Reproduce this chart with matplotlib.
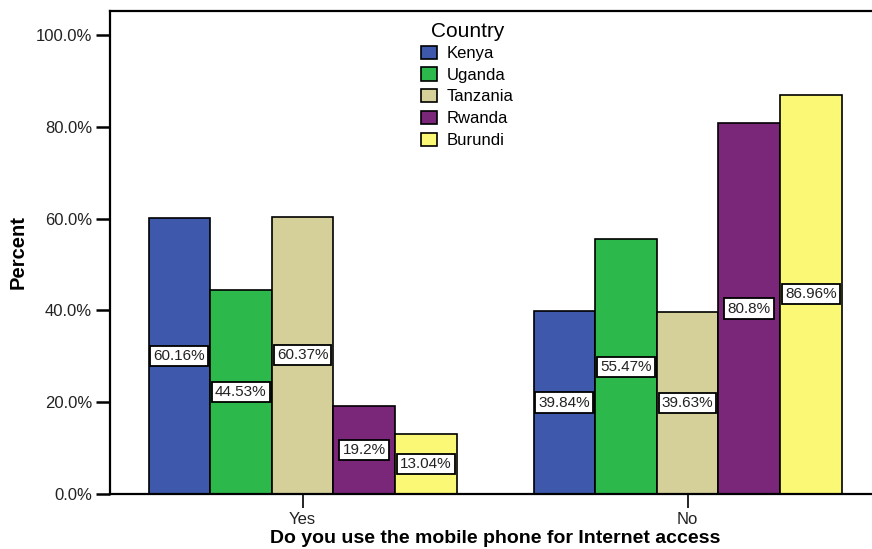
import numpy as np
import matplotlib.pyplot as plt

# data
groups = ['Yes', 'No']
countries = ['Kenya', 'Uganda', 'Tanzania', 'Rwanda', 'Burundi']
kenya = [60.16, 39.84]
uganda = [44.53, 55.47]
tanzania = [60.37, 39.63]
rwanda = [19.2, 80.8]
burundi = [13.04, 86.96]
colors = ['#3e58ab', '#2db84b', '#d5cf9a', '#7b2779', '#fbf875']

plt.rcParams['font.family'] = ['Liberation Sans', 'DejaVu Sans']

fig = plt.figure(figsize=(8.72, 5.49), dpi=100)
W, H = 872, 549
ax = fig.add_axes([110 / W, (H - 494) / H, 770 / W, (494 - 11) / H])

x = np.arange(len(groups))
width = 0.16
series = [kenya, uganda, tanzania, rwanda, burundi]
for i, (name, vals) in enumerate(zip(countries, series)):
    pos = x + (i - 2) * width
    ax.bar(pos, vals, width, color=colors[i], edgecolor='black',
           linewidth=1.2, label=name, zorder=2)
    for px, v in zip(pos, vals):
        txt = f'{v:g}%'
        ax.text(px, v / 2, txt, ha='center', va='center', fontsize=11,
                color='#222222', zorder=3,
                bbox=dict(boxstyle='square,pad=0.2', facecolor='white',
                          edgecolor='black', linewidth=1.3))

ax.set_xlim(-0.5, 1.5)
ax.set_ylim(0, 105.2)
ax.set_yticks([0, 20, 40, 60, 80, 100])
ax.set_yticklabels([f'{t:.1f}%' for t in [0, 20, 40, 60, 80, 100]],
                   fontsize=12, color='#222222')
ax.set_xticks(x)
ax.set_xticklabels(groups, fontsize=12, color='#222222')
ax.tick_params(axis='y', length=10, width=1.8, pad=3)
ax.tick_params(axis='x', length=10, width=1.2, pad=3)

for side in ['left', 'top', 'bottom']:
    ax.spines[side].set_linewidth(1.6)
ax.spines['right'].set_visible(False)

ax.set_ylabel('Percent', fontsize=14.5, fontweight='bold', labelpad=6)
ax.set_xlabel('Do you use the mobile phone for Internet access',
              fontsize=14, fontweight='bold', labelpad=2)

leg = ax.legend(title='Country', loc='upper left',
                bbox_to_anchor=(413 / W, 1 - 14 / H),
                bbox_transform=fig.transFigure, frameon=False,
                fontsize=12, title_fontsize=15, handlelength=0.95,
                handleheight=0.85, handletextpad=0.55, labelspacing=0.38,
                borderpad=0)
leg._legend_box.sep = 3

fig.savefig('out.png', dpi=100)
